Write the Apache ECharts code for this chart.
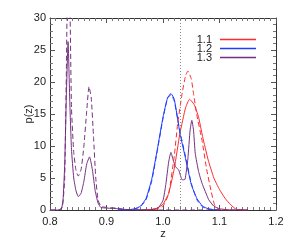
<!DOCTYPE html>
<html>
<head>
<meta charset="utf-8">
<script src="https://cdn.jsdelivr.net/npm/echarts@6/dist/echarts.min.js"></script>
<style>html,body{margin:0;padding:0;background:#fff}#c{width:291px;height:249px}</style>
</head>
<body>
<div id="c"></div>
<script>
var xTicks = [0.8, 0.9, 1.0, 1.1, 1.2];
var yTicks = [0, 5, 10, 15, 20, 25, 30];
var names = ['1.1', '1.2', '1.3'];
var zMark = 1.032;

var zRedSolid = [0.97, 0.98, 0.99, 1.0, 1.01, 1.02, 1.03, 1.04, 1.047, 1.055, 1.063, 1.07, 1.08, 1.09, 1.1, 1.11, 1.12, 1.13, 1.15];
var pRedSolid = [0, 0.1, 0.3, 0.9, 2.6, 6.5, 12, 16, 17.3, 16.5, 14.5, 11.5, 7.8, 5, 3.2, 1.8, 0.8, 0.1, 0];
var zRedDash = [0.97, 0.98, 0.99, 1.0, 1.01, 1.02, 1.026, 1.034, 1.04, 1.044, 1.05, 1.054, 1.06, 1.069, 1.077, 1.085, 1.092, 1.1, 1.12];
var pRedDash = [0, 0.1, 0.2, 0.6, 2.5, 8.5, 13.5, 18.3, 21, 21.7, 20.5, 18.2, 14.8, 10.9, 6.5, 3.0, 0.6, 0.1, 0];

var zBlue = [0.92, 0.94, 0.95, 0.96, 0.97, 0.98, 0.99, 1.0, 1.008, 1.014, 1.02, 1.03, 1.04, 1.05, 1.06, 1.07, 1.08, 1.09, 1.1];
var pBlueSolid = [0, 0.05, 0.2, 0.6, 1.8, 4.8, 9.5, 14.5, 17.5, 18.2, 17.3, 12, 8, 4, 1.8, 0.6, 0.2, 0.05, 0];
var pBlueDash = [0, 0.05, 0.15, 0.5, 1.6, 4.5, 9.3, 14.3, 17.5, 18.0, 17.0, 12.3, 8.3, 4.2, 1.6, 0.5, 0.15, 0.05, 0];

var zPurpleSolid = [0.80, 0.815, 0.82, 0.823, 0.826, 0.829, 0.832, 0.835, 0.838, 0.842, 0.846, 0.85, 0.855, 0.86, 0.865, 0.87, 0.875, 0.88, 0.885, 0.89, 0.9, 0.91, 0.92, 0.93, 0.95, 0.97, 0.99, 1.0, 1.005, 1.01, 1.014, 1.018, 1.022, 1.028, 1.034, 1.039, 1.044, 1.048, 1.051, 1.054, 1.057, 1.063, 1.069, 1.081, 1.09, 1.1, 1.12, 1.15];
var pPurpleSolid = [0, 0, 0.1, 1.5, 7, 18, 26.3, 17, 9.5, 5, 3, 2.1, 2.6, 4.5, 7.2, 8.3, 6.3, 3, 1.1, 0.4, 0.3, 0.25, 0.2, 0.1, 0.05, 0.05, 0.2, 1.5, 4, 7.5, 9.0, 7.8, 6.8, 6.2, 4.7, 4.8, 8, 12.5, 14, 12.5, 8.9, 6, 4.2, 1.6, 0.6, 0.2, 0, 0];
var zPurpleDash = [0.80, 0.815, 0.822, 0.826, 0.829, 0.832, 0.835, 0.838, 0.842, 0.846, 0.85, 0.855, 0.86, 0.865, 0.869, 0.873, 0.877, 0.881, 0.885, 0.89, 0.9, 0.91, 0.92, 0.93, 0.95, 1.0, 1.05, 1.1, 1.15];
var pPurpleDash = [0, 0, 0.5, 5, 22, 42, 34, 16, 9, 6.2, 5.3, 6.3, 10, 15.5, 19.3, 17.5, 11.5, 5, 1.6, 0.6, 0.4, 0.35, 0.3, 0.1, 0, 0, 0, 0, 0];

var RED = '#ff2a2a', BLUE = '#1f3dff', PURPLE = '#74307f';

function pairs(z, p) { return z.map(function (v, i) { return [v, p[i]]; }); }

function line(name, z, p, color, dashed) {
  return {
    name: name, type: 'line', data: pairs(z, p), showSymbol: false, symbol: 'none',
    smooth: 0.15, clip: true, silent: true,
    lineStyle: { color: color, width: 1, type: dashed ? [5, 3] : 'solid' },
    itemStyle: { color: color }
  };
}

var font = { color: '#222', fontSize: 11, fontFamily: 'Liberation Sans' };

var axisCommon = {
  axisLine: { show: true, onZero: false, lineStyle: { color: '#333', width: 1 } },
  axisTick: { show: true, inside: true, length: 5, lineStyle: { color: '#555' } },
  minorTick: { show: true, length: 3, lineStyle: { color: '#777' } },
  splitLine: { show: false }
};

var chart = echarts.init(document.getElementById('c'), null, { renderer: 'canvas' });
var series = [
  line(names[0], zRedSolid, pRedSolid, RED, false),
  line(names[1], zBlue, pBlueSolid, BLUE, false),
  line(names[2], zPurpleSolid, pPurpleSolid, PURPLE, false),
  line('1.1 b', zRedDash, pRedDash, RED, true),
  line('1.2 b', zBlue, pBlueDash, BLUE, true),
  line('1.3 b', zPurpleDash, pPurpleDash, PURPLE, true)
];
series[0].markLine = {
  silent: true, symbol: 'none', label: { show: false },
  lineStyle: { color: '#888', type: [1, 2], width: 1 },
  data: [{ xAxis: zMark }]
};

chart.setOption({
  animation: false,
  backgroundColor: '#fff',
  grid: { left: 50, right: 15, top: 18, bottom: 39 },
  xAxis: [
    Object.assign({}, axisCommon, {
      type: 'value', min: xTicks[0], max: xTicks[xTicks.length - 1], interval: 0.1,
      minorTick: Object.assign({}, axisCommon.minorTick, { splitNumber: 10 }),
      name: 'z', nameLocation: 'middle', nameGap: 18, nameMoveOverlap: false,
      nameTextStyle: font,
      axisLabel: Object.assign({ margin: 6, formatter: function (v) { return v.toFixed(1); } }, font)
    }),
    Object.assign({}, axisCommon, {
      type: 'value', position: 'top', min: xTicks[0], max: xTicks[xTicks.length - 1], interval: 0.1,
      minorTick: Object.assign({}, axisCommon.minorTick, { splitNumber: 10 }),
      axisLabel: { show: false }
    })
  ],
  yAxis: [
    Object.assign({}, axisCommon, {
      type: 'value', min: yTicks[0], max: yTicks[yTicks.length - 1], interval: 5,
      minorTick: Object.assign({}, axisCommon.minorTick, { splitNumber: 5 }),
      name: 'p(z)', nameLocation: 'middle', nameGap: 16, nameMoveOverlap: false,
      nameTextStyle: font,
      axisLabel: Object.assign({ margin: 4 }, font)
    }),
    Object.assign({}, axisCommon, {
      type: 'value', position: 'right', min: yTicks[0], max: yTicks[yTicks.length - 1], interval: 5,
      minorTick: Object.assign({}, axisCommon.minorTick, { splitNumber: 5 }),
      axisLabel: { show: false }
    })
  ],
  legend: {
    data: names, orient: 'vertical', align: 'right', right: 30, top: 29,
    icon: 'rect', itemWidth: 36, itemHeight: 1.5, itemGap: -2,
    textStyle: Object.assign({ lineHeight: 8.5, padding: [0, 3, 0, 0] }, font),
    selectedMode: false
  },
  series: series
});
</script>
</body>
</html>
